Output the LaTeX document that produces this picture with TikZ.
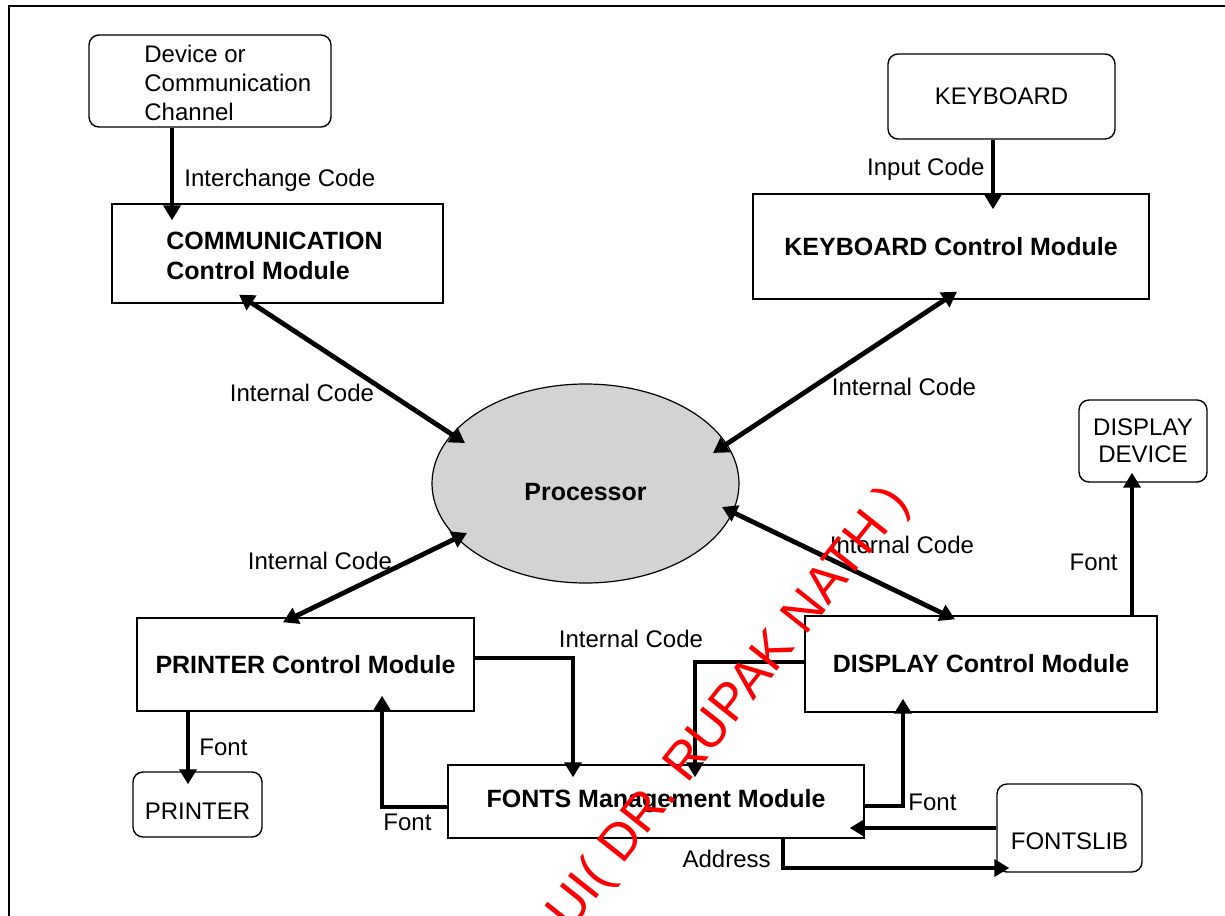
\documentclass[tikz,border=0pt]{standalone}
\usepackage{fontspec}
\setmainfont{Liberation Sans}
\usetikzlibrary{shapes.geometric, arrows.meta, calc}
\definecolor{procgray}{RGB}{211,211,211}

\begin{document}
\begin{tikzpicture}[x=0.5pt, y=-0.5pt, font=\fontsize{12}{14.5}\selectfont,
	box/.style={draw, line width=0.7pt, inner sep=0pt},
	rbox/.style={box, rounded corners=5pt},
	bold/.style={font=\fontsize{12.5}{15}\selectfont\bfseries},
	lbl/.style={inner sep=0pt, text depth=0pt},
	txt/.style={inner sep=0pt, anchor=west, align=left},
	arr/.style={line width=2.4pt, -{Triangle[length=7.5pt,width=8.5pt]}},
	darr/.style={line width=2.4pt, {Triangle[length=7.5pt,width=8.5pt]}-{Triangle[length=7.5pt,width=8.5pt]}},
	wm/.style={text=red, inner sep=0pt, font=\fontsize{26}{28}\selectfont, rotate=51.5}]
	\useasboundingbox (0,0) rectangle (1225,915);
	\clip (0,0) rectangle (1225,915);
	\draw[line width=1pt] (9,930) -- (9,6) -- (1240,6);

	\node[rbox, minimum width=121pt, minimum height=46pt] (dev) at (210,81) {};
	\node[txt] (dev_t) at (144,83) {Device or\\Communication\\Channel};
	\node[box, minimum width=165.5pt, minimum height=49.5pt] (comm) at (277.5,253.5) {};
	\node[txt, bold] (comm_t) at (166,256) {COMMUNICATION\\Control Module};
	\node[rbox, minimum width=113.5pt, minimum height=42.5pt] (kbd) at (1001.5,96.5) {KEYBOARD};
	\node[box, bold, minimum width=198pt, minimum height=52.5pt] (kcm) at (951,246.5) {KEYBOARD Control Module};
	\node[ellipse, draw, fill=procgray, line width=0.6pt, inner sep=0pt, minimum width=153.5pt, minimum height=99.5pt, bold, text height=17.5pt] (proc) at (585.5,483.5) {Processor};
	\node[box, bold, minimum width=168.5pt, minimum height=46.5pt] (pcm) at (305.5,664.5) {PRINTER Control Module};
	\node[rbox, minimum width=64.5pt, minimum height=32.5pt, text height=15pt] (prn) at (197.5,804.5) {PRINTER};
	\node[box, bold, minimum width=208pt, minimum height=36.5pt] (fnt) at (656,801.5) {FONTS Management Module};
	\node[box, bold, minimum width=176pt, minimum height=48pt] (dcm) at (981,664) {DISPLAY Control Module};
	\node[rbox, minimum width=64pt, minimum height=41pt, align=center, font=\fontsize{12}{13.5}\selectfont] (dd) at (1143,441) {DISPLAY\\DEVICE};
	\node[rbox, minimum width=72.5pt, minimum height=44pt, text height=21.6pt] (flib) at (1069.5,828) {FONTSLIB};

	\path[arr]
	($(dev.south)+(-38,0)$) edge ($(comm.north)+(-105.5,17)$)
	($(kbd.south)+(-8.5,0)$) edge ($(kcm.north)+(42,16)$)
	($(pcm.south)+(-117.5,0)$) edge ($(prn.north)+(-9.5,13)$)
	(flib.west) edge ($(fnt.east)+(-15,26.5)$)
	($(dcm.north)+(151,0)$) edge ($(dd.south)+(-11,-10)$)
	;
	\path[darr]
	($(comm.south)+(-38.5,-9)$) edge ($(proc.center)+(-120.5,-40.5)$)
	($(kcm.south)+(6,-8)$) edge ($(proc.center)+(127.5,-30.5)$)
	($(pcm.north)+(-22.5,5)$) edge ($(proc.center)+(-118.5,49.5)$)
	($(dcm.north)+(-26,4)$) edge ($(proc.center)+(136.5,23.5)$)
	;
	\draw[arr] ($(pcm.east)+(0,-6.5)$) -| ($(fnt.north)+(-83,13)$);
	\draw[arr] ($(dcm.west)+(0,-2)$) -| ($(fnt.north)+(39,13)$);
	\draw[arr] ($(fnt.west)+(0,5.5)$) -| ($(pcm.south)+(76.5,-16)$);
	\draw[arr] ($(fnt.east)+(0,4.5)$) -| ($(dcm.south)+(-78,-14)$);
	\draw[arr] ($(fnt.south)+(127,0)$) |- ($(flib.west)+(13,40)$);

	\node[lbl, anchor=west] (l_xchg) at (184,178) {Interchange Code};
	\node[lbl, anchor=east] (l_inp) at (985,167) {Input Code};
	\node[lbl] (l_int1) at (302,393) {Internal Code};
	\node[lbl] (l_int2) at (904,387) {Internal Code};
	\node[lbl] (l_int3) at (320,561) {Internal Code};
	\node[lbl] (l_int4) at (902,545) {Internal Code};
	\node[lbl] (l_int5) at (631,639) {Internal Code};
	\node[lbl, anchor=west] (l_f1) at (199,747) {Font};
	\node[lbl, anchor=west] (l_f2) at (383,822) {Font};
	\node[lbl, anchor=west] (l_f3) at (908,802) {Font};
	\node[lbl, anchor=east] (l_f4) at (1118,562) {Font};
	\node[lbl, anchor=east] (l_addr) at (771,859) {Address};

	\node[wm] (wm) at (730,709) {UI( DR. RUPAK NATH )};
\end{tikzpicture}
\end{document}
